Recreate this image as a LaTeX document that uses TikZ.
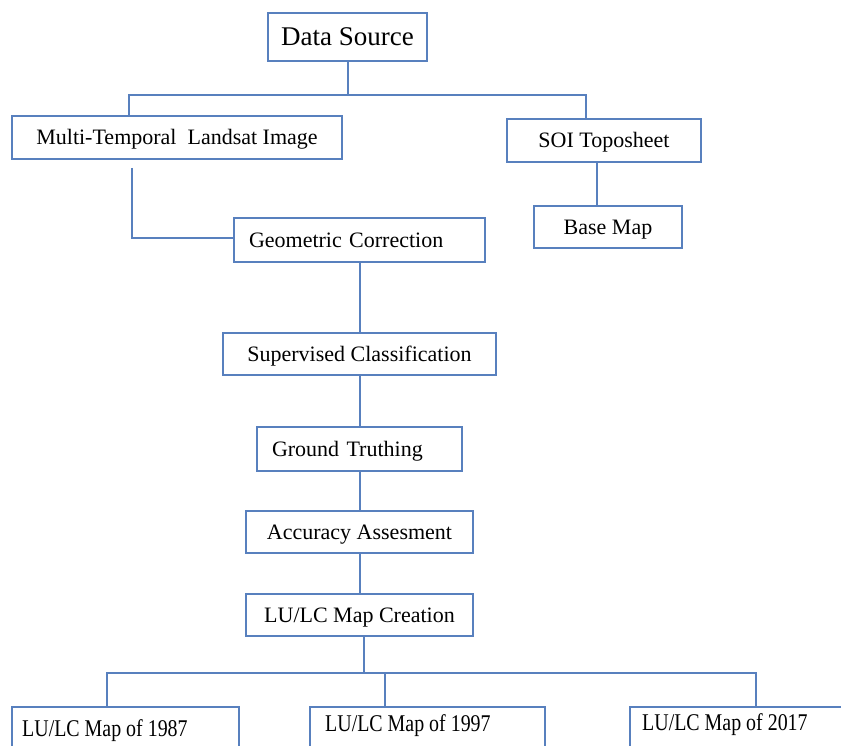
\documentclass[tikz,border=0pt]{standalone}
\usepackage{fontspec}
\usepackage{graphicx}
\setmainfont{Liberation Serif}
\definecolor{linecol}{RGB}{88,128,190}
\tikzset{
  conn/.style={draw=linecol, line width=1.6pt},
  box/.style={draw=linecol, line width=1.5pt, fill=white, rectangle, inner sep=0pt,
    font=\fontsize{22}{26}\selectfont, text height=14.6pt, text depth=0pt},
  leftbox/.style={box, align=left, inner xsep=15pt},
  bottext/.style={inner sep=0pt, anchor=base west, font=\fontsize{24}{28}\selectfont}
}
\begin{document}
\begin{tikzpicture}[x=1pt,y=-1pt]
\path[use as bounding box, clip] (0,0) rectangle (841,745);
\fill[white] (0,0) rectangle (841,745);

% nodes
\node[box, minimum width=159pt, minimum height=48pt, font=\fontsize{27}{31}\selectfont, text height=17.9pt] (ds) at (347.5,37) {Data Source};
\node[box, minimum width=330pt, minimum height=43pt] (mt) at (177,137.5) {Multi-Temporal\ \ Landsat Image};
\node[box, minimum width=194pt, minimum height=43pt] (soi) at (604,140.5) {SOI Toposheet};
\node[box, minimum width=148pt, minimum height=42pt] (bm) at (608,227) {Base Map};
\node[leftbox, text width=221pt, minimum height=44pt] (gc) at (359.5,240) {Geometric Correction};
\node[box, minimum width=273pt, minimum height=42pt] (sc) at (359.5,354) {Supervised Classification};
\node[leftbox, text width=175pt, minimum height=44pt] (gt) at (359.5,449) {Ground Truthing};
\node[box, minimum width=227pt, minimum height=42pt] (aa) at (359.5,532) {Accuracy Assesment};
\node[box, minimum width=227pt, minimum height=42pt] (lc) at (359.5,615) {LU/LC Map Creation};

\node[box, minimum width=227pt, minimum height=63pt] (m87) at (125.5,738.5) {};
\node[box, minimum width=235pt, minimum height=63pt] (m97) at (427.5,738.5) {};
\node[box, minimum width=250pt, minimum height=63pt] (m17) at (755,738.5) {};
\node[bottext] (t87) at (22,736) {\scalebox{0.83}[1]{LU/LC Map of 1987}};
\node[bottext] (t97) at (325,731) {\scalebox{0.83}[1]{LU/LC Map of 1997}};
\node[bottext] (t17) at (642,730) {\scalebox{0.83}[1]{LU/LC Map of 2017}};

% connectors
\coordinate (j1) at (348,95);
\coordinate (cx) at (360,0);
\draw[conn] (ds.south -| j1) -- (j1);
\draw[conn] (j1) -| ([xshift=118pt]mt.north west);
\draw[conn] (j1) -| ([xshift=80pt]soi.north west);
\draw[conn] ([xshift=91pt]soi.south west) -- ([xshift=91pt]soi.south west |- bm.north);
\draw[conn] ([xshift=121pt,yshift=-8pt]mt.south west) |- ([yshift=2pt]gc.west);
\draw[conn] (gc.south -| cx) -- (sc.north -| cx);
\draw[conn] (sc.south -| cx) -- (gt.north -| cx);
\draw[conn] (gt.south -| cx) -- (aa.north -| cx);
\draw[conn] (aa.south -| cx) -- (lc.north -| cx);
\coordinate (j2) at (364,673);
\draw[conn] (lc.south -| j2) -- (j2);
\draw[conn] (j2) -| ([xshift=96pt]m87.north west);
\draw[conn] (j2) -| ([xshift=127pt]m17.north west);
\draw[conn] ([xshift=76pt]m97.north west) -- ([xshift=76pt]m97.north west |- j2);
\end{tikzpicture}
\end{document}
